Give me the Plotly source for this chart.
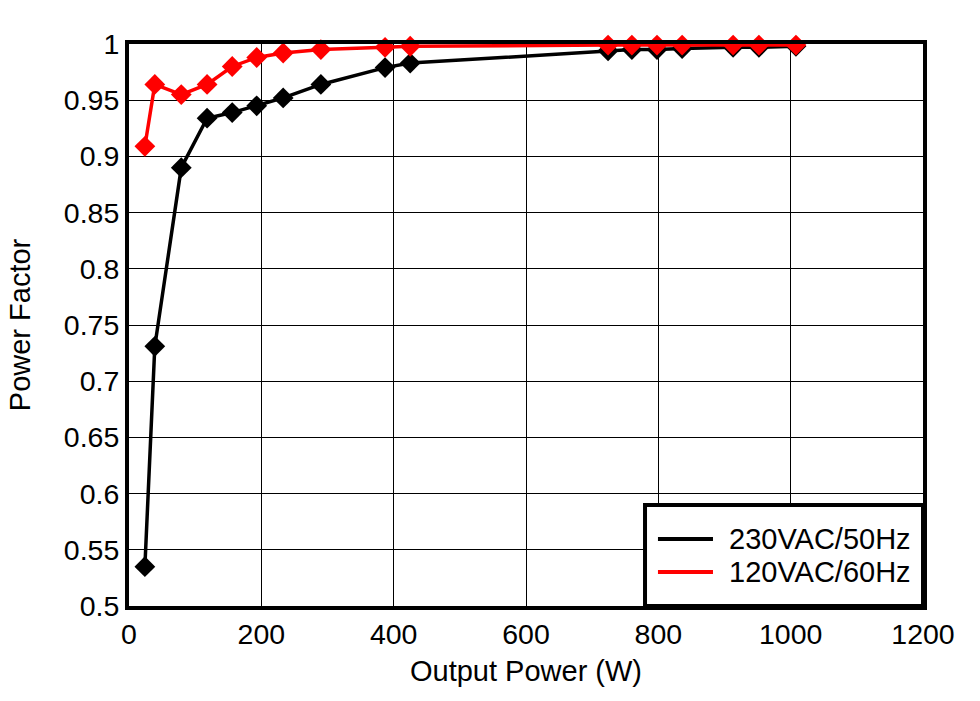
import plotly.graph_objects as go

power_230 = [24, 39, 79, 118, 156, 193, 233, 290, 387, 425, 724, 760, 798, 836, 913, 952, 1008]
pf_230 = [0.535, 0.731, 0.890, 0.934, 0.939, 0.945, 0.952, 0.964, 0.979, 0.983,
          0.994, 0.995, 0.995, 0.996, 0.997, 0.997, 0.998]

power_120 = [24, 39, 79, 118, 156, 193, 233, 290, 387, 425, 724, 760, 798, 836, 913, 952, 1008]
pf_120 = [0.909, 0.964, 0.955, 0.964, 0.980, 0.988, 0.992, 0.995, 0.997, 0.998,
          0.999, 0.999, 0.999, 0.999, 0.999, 0.999, 0.999]

x_ticks = [0, 200, 400, 600, 800, 1000, 1200]
y_ticks = [0.5, 0.55, 0.6, 0.65, 0.7, 0.75, 0.8, 0.85, 0.9, 0.95, 1.0]
y_labels = ["0.5", "0.55", "0.6", "0.65", "0.7", "0.75", "0.8", "0.85", "0.9", "0.95", "1"]

series_names = ["230VAC/50Hz", "120VAC/60Hz"]
series_colors = ["#000000", "#ff0000"]

FONT = "Arial, Liberation Sans, sans-serif"

fig = go.Figure()
for xs, ys, name, col in [(power_230, pf_230, series_names[0], series_colors[0]),
                          (power_120, pf_120, series_names[1], series_colors[1])]:
    fig.add_trace(go.Scatter(
        x=xs, y=ys, mode="lines+markers", name=name, showlegend=False,
        line=dict(color=col, width=3.5),
        marker=dict(symbol="diamond", size=16, color=col),
        cliponaxis=False,
    ))

# Legend box drawn in paper coordinates (bottom-right corner of the plot)
legend_rows_y = [0.119, 0.0605]
fig.add_shape(type="rect", xref="paper", yref="paper",
              x0=0.6499, x1=1.0, y0=0.0, y1=0.1797,
              fillcolor="white", line=dict(color="black", width=4), layer="above")
for name, col, yy in zip(series_names, series_colors, legend_rows_y):
    fig.add_shape(type="line", xref="paper", yref="paper",
                  x0=0.6662, x1=0.7355, y0=yy, y1=yy,
                  line=dict(color=col, width=4), layer="above")
    fig.add_annotation(xref="paper", yref="paper", x=0.7530, y=yy,
                       text=name, showarrow=False, xanchor="left", yanchor="middle",
                       font=dict(family=FONT, size=29, color="black"))

fig.update_layout(
    width=980, height=701,
    margin=dict(l=129, r=57, t=44, b=95),
    paper_bgcolor="white", plot_bgcolor="white",
    font=dict(family=FONT, size=28.5, color="black"),
    showlegend=False,
    xaxis=dict(
        range=[0, 1200], tickvals=x_ticks, ticktext=[str(v) for v in x_ticks],
        showgrid=True, gridcolor="black", gridwidth=1,
        showline=True, linecolor="black", linewidth=4, mirror=True,
        ticks="", zeroline=False,
        title=dict(text="Output Power (W)", font=dict(family=FONT, size=29), standoff=12),
        tickfont=dict(family=FONT, size=28.5),
    ),
    yaxis=dict(
        range=[0.5, 1.0], tickvals=y_ticks, ticktext=y_labels,
        showgrid=True, gridcolor="black", gridwidth=1,
        showline=True, linecolor="black", linewidth=4, mirror=True,
        ticks="", zeroline=False,
        title=dict(text="Power Factor", font=dict(family=FONT, size=29), standoff=26),
        tickfont=dict(family=FONT, size=28.5),
    ),
)

fig.write_html("out.html", config={"displayModeBar": False},
               post_script="document.body.style.margin='0px';")
